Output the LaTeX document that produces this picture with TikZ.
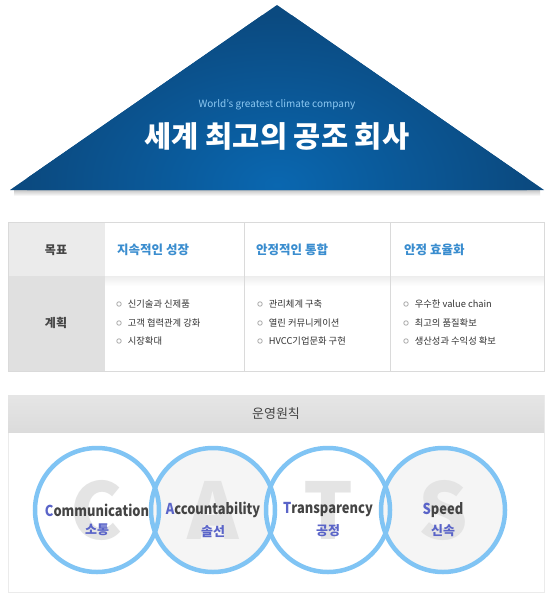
\documentclass[tikz,border=0pt]{standalone}
\usepackage{fontspec}
\setmainfont{Noto Sans CJK KR}
\newfontfamily\narrowfont[FakeStretch=0.86]{Noto Sans CJK KR}
\usetikzlibrary{positioning}

\definecolor{triedge}{HTML}{0B4A80}
\definecolor{tricore}{HTML}{0A67B0}
\definecolor{subblue}{HTML}{8CC8F2}
\definecolor{goalblue}{HTML}{3A8DCF}
\definecolor{textgray}{HTML}{444444}
\definecolor{itemgray}{HTML}{333333}
\definecolor{linegray}{HTML}{DADADA}
\definecolor{headgray}{HTML}{EBEBEB}
\definecolor{bodygray}{HTML}{E0E0E0}
\definecolor{dotgray}{HTML}{A8A8A8}
\definecolor{ringblue}{HTML}{80C4F4}
\definecolor{lensgray}{HTML}{F5F5F5}
\definecolor{ghostgray}{HTML}{E4E4E4}
\definecolor{initblue}{HTML}{5A64C8}

\begin{document}
\begin{tikzpicture}[x=1pt, y=-1pt,
  every node/.style={inner sep=0pt},
  goal/.style={anchor=west, font=\fontsize{12.5}{14}\selectfont\bfseries, text=goalblue},
  rowhead/.style={font=\fontsize{12}{14}\selectfont\bfseries, text=textgray},
  item/.style={font=\fontsize{9.3}{11}\selectfont, text=itemgray},
  bullet/.style={circle, draw=dotgray, fill=white, line width=0.8pt, minimum size=4.5pt},
  ring/.style={circle, draw=ringblue, line width=4.5pt, minimum size=124pt},
  ghost/.style={font=\fontsize{78}{78}\selectfont\bfseries, text=ghostgray},
  value/.style={font=\narrowfont\fontsize{15}{17}\selectfont\bfseries, text=textgray},
  valuekr/.style={font=\fontsize{13}{15}\selectfont\bfseries, text=initblue}]
  \useasboundingbox[fill=white] (0,0) rectangle (550,596);

  % top triangle
  \shade[top color=black!22, bottom color=white] (14,190) rectangle (540,196);
  \fill[triedge] (10,190) -- (277,5) -- (544,190) -- cycle;
  \begin{scope}
    \clip (10,190) -- (277,5) -- (544,190) -- cycle;
    \shade[inner color=tricore, outer color=triedge] (277,185) ellipse (250 and 170);
  \end{scope}
  \node[font=\fontsize{10}{12}\selectfont, text=subblue] (motto) at (277,105) {World’s greatest climate company};
  \node[font=\fontsize{29.5}{31}\selectfont\bfseries, text=white, below=12pt of motto] (vision) {세계 최고의 공조 회사};

  % goals and plans
  \fill[headgray] (8,222) rectangle (105,276);
  \fill[bodygray] (8,276) rectangle (105,371);
  \shade[top color=black!7, bottom color=white] (105,276) rectangle (544,286);
  \draw[linegray, line width=0.6pt] (8,222) rectangle (544,371);
  \draw[linegray, line width=0.6pt] (244,222) -- (244,371) (390,222) -- (390,371);
  \node[rowhead] (goalhead) at (56,250) {목표};
  \node[rowhead] (planhead) at (56,323) {계획};
  \node[goal] (goal1) at (117,250) {지속적인 성장};
  \node[goal] (goal2) at (256,250) {안정적인 통합};
  \node[goal] (goal3) at (404,250) {안정 효율화};

  \foreach \col/\x/\a/\b/\c in {1/119/신기술과 신제품/고객 협력관계 강화/시장확대,
                               2/260/관리체계 구축/열린 커뮤니케이션/HVCC기업문화 구현,
                               3/406/우수한 value chain/최고의 품질확보/생산성과 수익성 확보} {
    \node[bullet] (dot\col a) at (\x,304) {};
    \node[bullet] (dot\col b) at (\x,323) {};
    \node[bullet] (dot\col c) at (\x,341) {};
    \node[item, right=6pt of dot\col a] (plan\col a) {\a};
    \node[item, right=6pt of dot\col b] (plan\col b) {\b};
    \node[item, right=6pt of dot\col c] (plan\col c) {\c};
  }

  % operating principles
  \draw[black!8, line width=1pt] (8,395) rectangle (544,592);
  \shade[top color=black!10, bottom color=black!14] (8,395) rectangle (544,432);
  \node[font=\fontsize{13}{15}\selectfont, text=textgray] (rules) at (276,414) {운영원칙};

  \node[ring, draw=none, fill=white] (comm) at (97,510) {};
  \node[ring, draw=none, fill=lensgray] (acct) at (213,510) {};
  \node[ring, draw=none, fill=white] (trans) at (328,510) {};
  \node[ring, draw=none, fill=lensgray] (speed) at (443,510) {};
  \foreach \c/\l in {comm/C, acct/A, trans/T, speed/S}
    \node[ghost] at (\c) {\l};
  \foreach \c in {comm, acct, trans, speed}
    \node[ring] at (\c) {};

  \node[value] (commname) at (comm) {\textcolor{initblue}{C}ommunication};
  \node[value] (acctname) at (acct) {\textcolor{initblue}{A}ccountability};
  \node[value] (transname) at (trans) {\textcolor{initblue}{T}ransparency};
  \node[value] (speedname) at (speed) {\textcolor{initblue}{S}peed};
  \node[valuekr, below=7pt of commname] (commkr) {소통};
  \node[valuekr, below=7pt of acctname] (acctkr) {솔선};
  \node[valuekr, below=7pt of transname] (transkr) {공정};
  \node[valuekr, below=7pt of speedname] (speedkr) {신속};
\end{tikzpicture}
\end{document}
